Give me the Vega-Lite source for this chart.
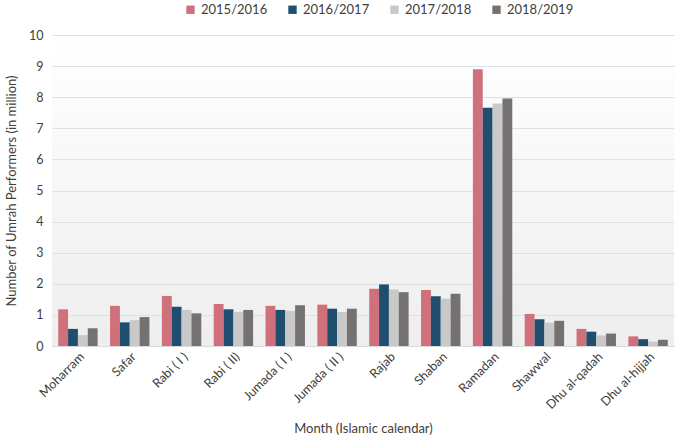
{
  "$schema": "https://vega.github.io/schema/vega-lite/v6.json",
  "width": 622,
  "height": 311,
  "autosize": {"type": "none"},
  "padding": {"left": 52, "top": 35, "right": 16, "bottom": 94},
  "background": "white",
  "config": {
    "font": "Lato",
    "view": {
      "fill": {"gradient": "linear", "x1": 0, "y1": 0, "x2": 0, "y2": 1, "stops": [{"offset": 0, "color": "#FFFFFF"}, {"offset": 1, "color": "#EEEEEE"}]},
      "stroke": null
    }
  },
  "data": {
    "values": [
      {"month": "Moharram", "season": "2015/2016", "value": 1.18},
      {"month": "Moharram", "season": "2016/2017", "value": 0.55},
      {"month": "Moharram", "season": "2017/2018", "value": 0.35},
      {"month": "Moharram", "season": "2018/2019", "value": 0.57},
      {"month": "Safar", "season": "2015/2016", "value": 1.29},
      {"month": "Safar", "season": "2016/2017", "value": 0.76},
      {"month": "Safar", "season": "2017/2018", "value": 0.83},
      {"month": "Safar", "season": "2018/2019", "value": 0.93},
      {"month": "Rabi ( I )", "season": "2015/2016", "value": 1.61},
      {"month": "Rabi ( I )", "season": "2016/2017", "value": 1.26},
      {"month": "Rabi ( I )", "season": "2017/2018", "value": 1.16},
      {"month": "Rabi ( I )", "season": "2018/2019", "value": 1.05},
      {"month": "Rabi ( II)", "season": "2015/2016", "value": 1.35},
      {"month": "Rabi ( II)", "season": "2016/2017", "value": 1.18},
      {"month": "Rabi ( II)", "season": "2017/2018", "value": 1.1},
      {"month": "Rabi ( II)", "season": "2018/2019", "value": 1.16},
      {"month": "Jumada ( I )", "season": "2015/2016", "value": 1.29},
      {"month": "Jumada ( I )", "season": "2016/2017", "value": 1.16},
      {"month": "Jumada ( I )", "season": "2017/2018", "value": 1.13},
      {"month": "Jumada ( I )", "season": "2018/2019", "value": 1.31},
      {"month": "Jumada ( II )", "season": "2015/2016", "value": 1.33},
      {"month": "Jumada ( II )", "season": "2016/2017", "value": 1.2},
      {"month": "Jumada ( II )", "season": "2017/2018", "value": 1.09},
      {"month": "Jumada ( II )", "season": "2018/2019", "value": 1.2},
      {"month": "Rajab", "season": "2015/2016", "value": 1.84},
      {"month": "Rajab", "season": "2016/2017", "value": 1.98},
      {"month": "Rajab", "season": "2017/2018", "value": 1.82},
      {"month": "Rajab", "season": "2018/2019", "value": 1.73},
      {"month": "Shaban", "season": "2015/2016", "value": 1.8},
      {"month": "Shaban", "season": "2016/2017", "value": 1.6},
      {"month": "Shaban", "season": "2017/2018", "value": 1.52},
      {"month": "Shaban", "season": "2018/2019", "value": 1.68},
      {"month": "Ramadan", "season": "2015/2016", "value": 8.9},
      {"month": "Ramadan", "season": "2016/2017", "value": 7.66},
      {"month": "Ramadan", "season": "2017/2018", "value": 7.8},
      {"month": "Ramadan", "season": "2018/2019", "value": 7.96},
      {"month": "Shawwal", "season": "2015/2016", "value": 1.03},
      {"month": "Shawwal", "season": "2016/2017", "value": 0.86},
      {"month": "Shawwal", "season": "2017/2018", "value": 0.75},
      {"month": "Shawwal", "season": "2018/2019", "value": 0.81},
      {"month": "Dhu al-qadah", "season": "2015/2016", "value": 0.55},
      {"month": "Dhu al-qadah", "season": "2016/2017", "value": 0.46},
      {"month": "Dhu al-qadah", "season": "2017/2018", "value": 0.34},
      {"month": "Dhu al-qadah", "season": "2018/2019", "value": 0.4},
      {"month": "Dhu al-hijjah", "season": "2015/2016", "value": 0.31},
      {"month": "Dhu al-hijjah", "season": "2016/2017", "value": 0.22},
      {"month": "Dhu al-hijjah", "season": "2017/2018", "value": 0.14},
      {"month": "Dhu al-hijjah", "season": "2018/2019", "value": 0.2}
    ]
  },
  "mark": {"type": "bar"},
  "encoding": {
    "x": {
      "field": "month",
      "type": "nominal",
      "sort": null,
      "scale": {"paddingInner": 0.24, "paddingOuter": 0.12},
      "axis": {
        "title": "Month (Islamic calendar)",
        "titleFontSize": 13,
        "titleFontWeight": "normal",
        "titleColor": "#404040",
        "titlePadding": 12,
        "labelAngle": -45,
        "labelFontSize": 12.5,
        "labelColor": "#404040",
        "labelPadding": 4,
        "ticks": false,
        "domainColor": "#D9D9D9"
      }
    },
    "xOffset": {"field": "season", "type": "nominal", "scale": {"paddingInner": 0}},
    "y": {
      "field": "value",
      "type": "quantitative",
      "scale": {"domain": [0, 10]},
      "axis": {
        "title": "Number of Umrah Performers (in million)",
        "titleFontSize": 13,
        "titleFontWeight": "normal",
        "titleColor": "#404040",
        "titlePadding": 10,
        "values": [0, 1, 2, 3, 4, 5, 6, 7, 8, 9, 10],
        "labelOverlap": false,
        "labelFontSize": 12.5,
        "labelColor": "#404040",
        "labelPadding": 9,
        "ticks": false,
        "domain": false,
        "gridColor": "#D9E1EA",
        "gridWidth": 1.2
      }
    },
    "color": {
      "field": "season",
      "type": "nominal",
      "scale": {
        "domain": ["2015/2016", "2016/2017", "2017/2018", "2018/2019"],
        "range": ["#D0707A", "#1F4E6E", "#C9C9C9", "#767171"]
      },
      "legend": {
        "title": null,
        "orient": "none",
        "legendX": 132,
        "legendY": -32,
        "direction": "horizontal",
        "symbolType": "square",
        "symbolSize": 70,
        "symbolStrokeWidth": 0,
        "labelFontSize": 13,
        "labelColor": "#404040",
        "columnPadding": 18
      }
    }
  }
}
